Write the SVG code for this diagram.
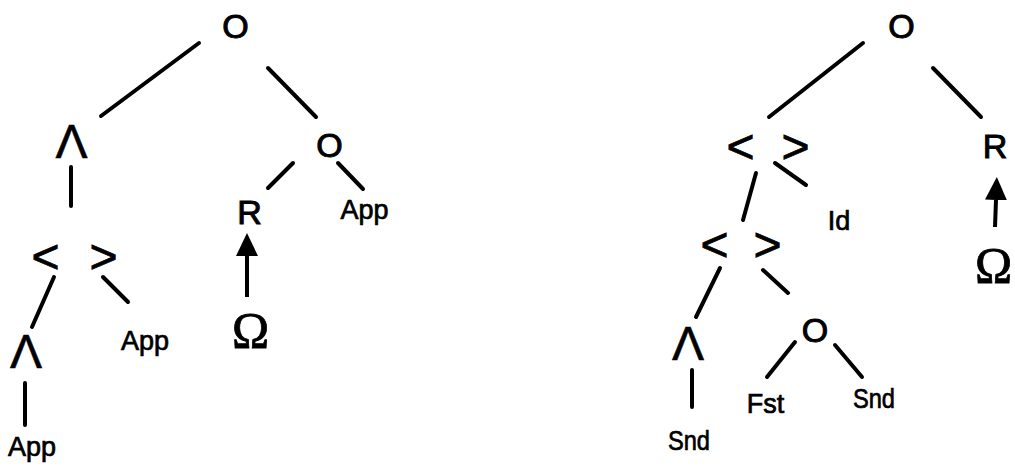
<svg xmlns="http://www.w3.org/2000/svg" width="1015" height="466" viewBox="0 0 1015 466">
<style>
.bg{fill:#fff}
.e{stroke:#000;stroke-width:4;stroke-linecap:round;fill:none}
.a{stroke:#000;stroke-width:4;stroke-linecap:butt;fill:none;marker-end:url(#ah)}
text{fill:#000;stroke:#000;font-family:"Liberation Sans",Arial,sans-serif;text-anchor:middle}
.big{font-size:34px;stroke-width:1}
.ang{font-size:48px;stroke-width:0.8}
.lam{font-size:48px;stroke-width:0.6}
.lbl{font-size:27px;stroke-width:0.7}
.om{font-family:"Liberation Serif","Times New Roman",serif;font-size:50px;stroke-width:0.8}
</style>
<defs>
<marker id="ah" markerUnits="userSpaceOnUse" viewBox="0 -11 23 22" refX="0" refY="0" markerWidth="23" markerHeight="22" orient="auto">
<path d="M0,-11 L23,0 L0,11 Z" fill="#000"/>
</marker>
</defs>
<rect class="bg" width="1015" height="466"/>
<g id="connectors">
<line class="e" x1="199" y1="43" x2="101" y2="116"/>
<line class="e" x1="268" y1="68" x2="316" y2="117"/>
<line class="e" x1="71" y1="167" x2="71" y2="206"/>
<line class="e" x1="293" y1="163" x2="268" y2="188"/>
<line class="e" x1="338" y1="163" x2="363" y2="189"/>
<line class="e" x1="54" y1="277" x2="32" y2="327"/>
<line class="e" x1="103" y1="277" x2="128" y2="302"/>
<line class="e" x1="25" y1="383" x2="25" y2="425"/>
<line class="a" x1="247" y1="297" x2="247" y2="256"/>
<line class="e" x1="863" y1="43" x2="769" y2="117"/>
<line class="e" x1="933" y1="68" x2="981" y2="117"/>
<line class="e" x1="756" y1="173" x2="743" y2="220"/>
<line class="e" x1="775" y1="163" x2="806" y2="185"/>
<line class="a" x1="995" y1="227" x2="996" y2="200"/>
<line class="e" x1="720" y1="268" x2="696" y2="317"/>
<line class="e" x1="763" y1="270" x2="788" y2="293"/>
<line class="e" x1="692" y1="370" x2="692" y2="407"/>
<line class="e" x1="795" y1="342" x2="767" y2="377"/>
<line class="e" x1="835" y1="345" x2="862" y2="377"/>
</g>
<g id="L-root"><text class="big" x="235.5" y="38">O</text></g>
<g id="L-lambda1"><text class="lam" x="71.5" y="158">Λ</text></g>
<g id="L-comp"><text class="big" x="329.5" y="157">O</text></g>
<g id="L-R"><text class="big" x="249.5" y="224">R</text></g>
<g id="L-app1"><text class="lbl" x="364.5" y="219">App</text></g>
<g id="L-pair"><text class="ang"><tspan x="45.5" y="273">&lt;</tspan><tspan x="103.5" y="273">&gt;</tspan></text></g>
<g id="L-lambda2"><text class="lam" x="26" y="368">Λ</text></g>
<g id="L-app2"><text class="lbl" x="145" y="350">App</text></g>
<g id="L-omega"><text class="om" x="250.5" y="347">Ω</text></g>
<g id="L-app3"><text class="lbl" x="32" y="456">App</text></g>
<g id="R-root"><text class="big" x="901.5" y="38">O</text></g>
<g id="R-R"><text class="big" x="995" y="158">R</text></g>
<g id="R-pair1"><text class="ang"><tspan x="740.5" y="163">&lt;</tspan><tspan x="795.5" y="163">&gt;</tspan></text></g>
<g id="R-id"><text class="lbl" x="839" y="230">Id</text></g>
<g id="R-omega"><text class="om" x="993.5" y="282">Ω</text></g>
<g id="R-pair2"><text class="ang"><tspan x="714.5" y="261">&lt;</tspan><tspan x="767.5" y="261">&gt;</tspan></text></g>
<g id="R-lambda"><text class="lam" x="688" y="360">Λ</text></g>
<g id="R-comp"><text class="big" x="815" y="342">O</text></g>
<g id="R-fst"><text class="lbl" x="765.5" y="413">Fst</text></g>
<g id="R-snd1"><text class="lbl" x="874" y="408" textLength="42" lengthAdjust="spacingAndGlyphs">Snd</text></g>
<g id="R-snd2"><text class="lbl" x="689" y="450" textLength="42" lengthAdjust="spacingAndGlyphs">Snd</text></g>
</svg>
